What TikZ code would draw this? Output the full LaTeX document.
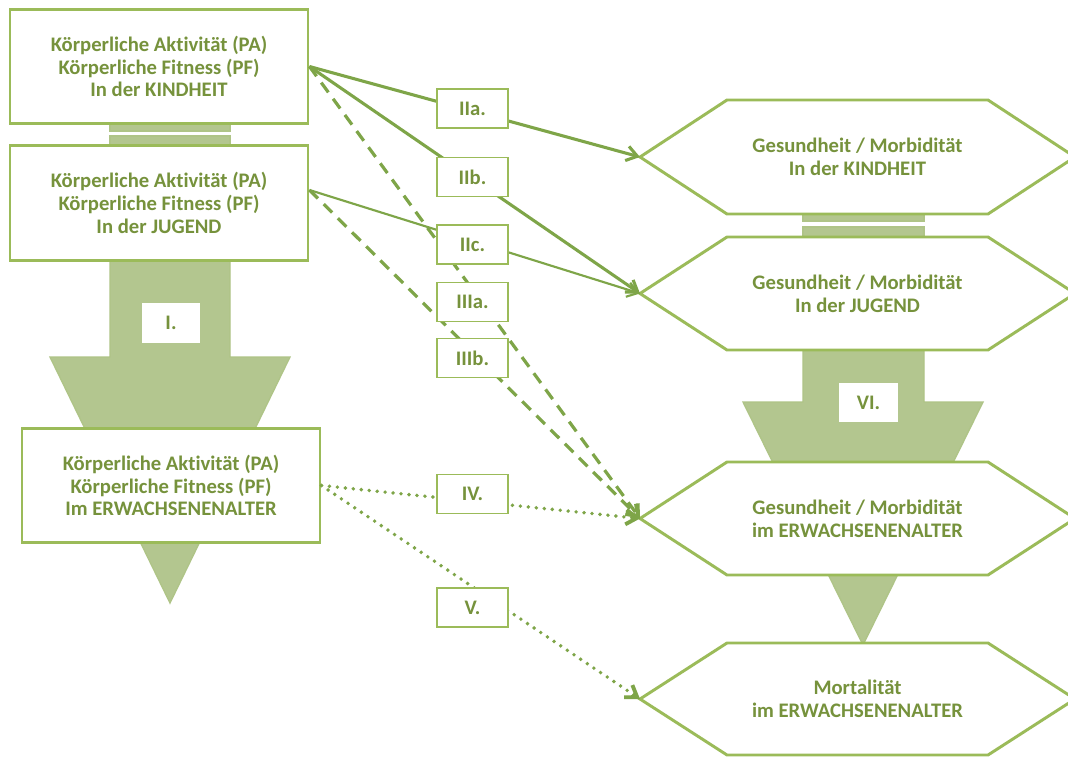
\documentclass[tikz,border=0pt]{standalone}
\usepackage{fontspec}
\setmainfont{Carlito}[Ligatures=NoCommon]
\usetikzlibrary{arrows.meta,calc}
\definecolor{gline}{HTML}{9BBB59}
\definecolor{gtext}{HTML}{76923C}
\definecolor{gfill}{HTML}{B3C68F}
\definecolor{gconn}{HTML}{7EA548}
\newcommand{\hexshape}[3]{%
  \draw[hexb] (640,{(#2+#3)/2}) coordinate (#1w) -- (727,#2) -- (988,#2) -- (1075,{(#2+#3)/2}) -- (988,#3) -- (727,#3) -- cycle;}
\begin{document}
\begin{tikzpicture}[x=0.75pt,y=-0.75pt,
  font=\bfseries\fontsize{15.5}{17}\selectfont,
  lbox/.style={draw=gline, line width=2.2pt, fill=white, text=gtext, align=center,
    minimum width=223.5pt, minimum height=86pt, inner sep=0pt},
  tag/.style={draw=gline, line width=1pt, fill=white, text=gtext,
    minimum width=53.25pt, minimum height=29.25pt, inner sep=0pt},
  btag/.style={fill=white, text=gtext, minimum width=44pt, minimum height=29.5pt, inner sep=0pt},
  hexb/.style={draw=gline, line width=2.2pt, fill=white},
  htext/.style={text=gtext, align=center},
  bigarrow/.style={fill=gfill, draw=gfill!85!gline, line width=1pt},
  bar/.style={fill=gfill, draw=gfill!85!gline, line width=0.8pt},
  conn/.style={draw=gconn, line width=2.3pt, -{Straight Barb[length=8pt,width=11pt]}},
  thinconn/.style={conn, line width=1.6pt},
  dashconn/.style={conn, line width=2.4pt, dash pattern=on 9pt off 6pt},
  dotconn/.style={conn, line width=2.9pt, line cap=round, dash pattern=on 0pt off 6pt}]
\useasboundingbox (0,0) rectangle (1068,758);
\fill[white] (0,0) rectangle (1068,758);

% big arrows
\draw[bigarrow] (110,258) -- (230,258) -- (230,357) -- (290,357) -- (170,603) -- (50,357) -- (110,357) -- cycle;
\draw[bigarrow] (803,348) -- (924,348) -- (924,402) -- (983,402) -- (863,645) -- (743,402) -- (803,402) -- cycle;

% bars
\draw[bar] (110,124) rectangle (230,131);
\draw[bar] (110,136) rectangle (230,146);
\draw[bar] (803,214) rectangle (924,221);
\draw[bar] (803,227) rectangle (924,237);

% left boxes
\node[lbox] (k1) at (159,66.5) {Körperliche Aktivität (PA)\\Körperliche Fitness (PF)\\In der KINDHEIT};
\node[lbox] (k2) at (159,203) {Körperliche Aktivität (PA)\\Körperliche Fitness (PF)\\In der JUGEND};
\node[lbox] (e) at (171,485.5) {Körperliche Aktivität (PA)\\Körperliche Fitness (PF)\\Im ERWACHSENENALTER};
\coordinate (k2o) at ([yshift=9.75pt]k2.east);

% hexagons
\hexshape{h1}{100}{214}
\hexshape{h2}{237}{350}
\hexshape{h3}{462}{575}
\hexshape{h4}{643}{755}
\node[htext] (h1t) at (857.5,157) {Gesundheit / Morbidität\\In der KINDHEIT};
\node[htext] (h2t) at (857.5,293.5) {Gesundheit / Morbidität\\In der JUGEND};
\node[htext] (h3t) at (857.5,518.5) {Gesundheit / Morbidität\\im ERWACHSENENALTER};
\node[htext] (h4t) at (857.5,699) {Mortalität\\im ERWACHSENENALTER};

% connectors
\draw[conn] (k1.east) -- (h1w);
\draw[conn] (k1.east) -- (h2w);
\draw[thinconn] (k2o) -- (h2w);
\draw[dashconn] (k1.east) -- (h3w);
\draw[dashconn] (k2o) -- (h3w);
\draw[dotconn] (e.east) -- (h3w);
\draw[dotconn] (e.east) -- (h4w);

% tags
\node[btag] (t1) at (171,323) {I.};
\node[btag] (t6) at (868.5,402.5) {VI.};
\node[tag] (t2a) at (472.5,108.5) {IIa.};
\node[tag] (t2b) at (472.5,177) {IIb.};
\node[tag] (t2c) at (472.5,244.5) {IIc.};
\node[tag] (t3a) at (472.5,302) {IIIa.};
\node[tag] (t3b) at (472.5,358) {IIIb.};
\node[tag] (t4) at (472.5,494) {IV.};
\node[tag] (t5) at (472.5,607.5) {V.};
\end{tikzpicture}
\end{document}
